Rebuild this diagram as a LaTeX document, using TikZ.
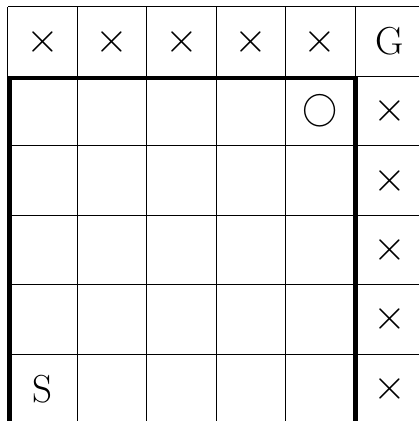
\documentclass[tikz,border=0pt]{standalone}
\begin{document}
\begin{tikzpicture}[cell/.style={font=\fontsize{16}{19}\selectfont, inner sep=0pt}, wall/.style={line width=1.8pt}]
  \useasboundingbox (-0.115,0.035) rectangle (5.92,6.1);
  \clip (-0.115,0.035) rectangle (5.92,6.1);
  \draw (0,-1) grid (7,6);
  % blocked cells
  \foreach \x in {1,...,5} \node[cell] (top\x) at (\x-0.5,5.5) {$\times$};
  \foreach \y in {1,...,5} \node[cell] (side\y) at (5.5,\y-0.5) {$\times$};
  \node[cell] (goal) at (5.5,5.5) {G};
  \node[cell, font=\fontsize{15.5}{18}\selectfont] (circ) at (4.5,4.5) {$\bigcirc$};
  \node[cell] (start) at (0.5,0.5) {S};
  % thick border
  \draw[wall] (0.03,-0.5) -- (0.03,4.977) -- (5.007,4.977) -- (5.007,-0.5);
\end{tikzpicture}
\end{document}
